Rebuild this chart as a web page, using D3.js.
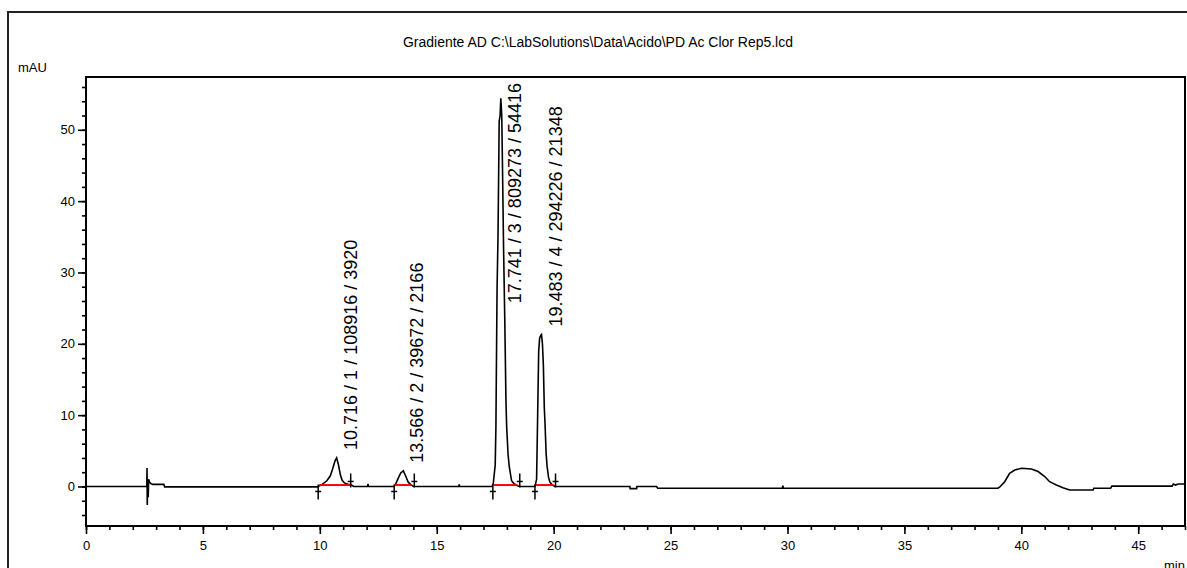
<!DOCTYPE html>
<html>
<head>
<meta charset="utf-8">
<script src="https://cdn.jsdelivr.net/npm/d3@7"></script>
<style>
  body { margin: 0; background: #fff; }
  #chart text { font-family: "Liberation Sans", Arial, sans-serif; fill: #000; }
</style>
</head>
<body>
<div id="chart"></div>
<script>
// chromatogram trace, [time (min), signal (mAU)]
var trace = [
  [0, 0], [2.55, 0], [2.60, 0], [2.61, 2.6], [2.62, -2.6], [2.64, 1.0], [2.66, -1.5], [2.68, 1.0],
  [2.72, 0.6], [2.78, 0.4], [2.85, 0.3], [3.33, 0.3], [3.36, -0.05], [9.90, -0.05], [9.93, 0],
  [10.10, 0.3], [10.30, 0.8], [10.45, 1.5], [10.55, 2.5], [10.65, 3.6], [10.72, 4.0], [10.80, 3.0],
  [10.88, 1.6], [10.95, 0.9], [11.05, 0.5], [11.20, 0.3], [11.35, 0.2], [11.45, 0], [12.04, 0],
  [12.06, 0.35], [12.08, 0], [13.18, 0],
  [13.25, 0.4], [13.36, 1.2], [13.46, 1.9], [13.57, 2.2], [13.68, 1.4], [13.78, 0.6], [13.88, 0.3],
  [14.00, 0], [15.94, 0], [15.96, 0.3], [15.98, 0], [17.37, 0],
  [17.42, 0.5], [17.50, 3.0], [17.53, 8.3], [17.56, 20], [17.58, 27.8], [17.62, 35], [17.67, 51.2],
  [17.71, 52], [17.74, 54.4], [17.78, 52], [17.81, 45.2], [17.86, 33], [17.91, 23.3], [17.96, 12],
  [17.99, 8.4], [18.05, 4.5], [18.10, 2.8], [18.20, 0.8], [18.30, 0.4], [18.45, 0.1], [18.55, 0],
  [19.20, 0],
  [19.27, 1.0], [19.31, 8.9], [19.36, 19], [19.40, 20.8], [19.45, 21.2], [19.48, 21.3], [19.52, 20.0],
  [19.56, 17], [19.60, 11], [19.63, 8.9], [19.68, 4.5], [19.72, 2.8], [19.78, 1.3], [19.84, 0.6],
  [19.95, 0.2], [20.05, 0],
  [23.26, 0], [23.27, -0.3], [23.55, -0.3], [23.56, 0], [24.40, 0], [24.45, -0.25], [29.78, -0.25],
  [29.80, 0.1], [29.83, -0.25], [39.00, -0.25],
  [39.07, -0.1], [39.29, 0.67], [39.50, 1.85], [39.72, 2.3], [40.00, 2.55], [40.43, 2.45], [40.72, 2.1],
  [41.00, 1.4], [41.21, 0.67], [41.50, 0.2], [41.78, -0.17], [42.07, -0.5], [43.07, -0.5], [43.10, -0.25],
  [43.82, -0.25], [43.87, 0.05], [46.45, 0.05], [46.50, 0.35], [46.60, 0.2], [46.70, 0.35], [47.00, 0.35]
];

// integrated peaks
var peakRT = [10.716, 13.566, 17.741, 19.483];
var peakHeight = [4.0, 2.2, 54.4, 21.3];
var peakLabels = [
  "10.716 / 1 / 108916 / 3920",
  "13.566 / 2 / 39672 / 2166",
  "17.741 / 3 / 809273 / 54416",
  "19.483 / 4 / 294226 / 21348"
];
var peakStart = [9.93, 13.18, 17.40, 19.20];
var peakEnd = [11.32, 14.04, 18.55, 20.08];
var baseFrom = [9.97, 13.21, 17.42, 19.23];
var baseTo = [11.30, 13.93, 18.45, 20.00];

var xTicks = [0, 5, 10, 15, 20, 25, 30, 35, 40, 45];
var yTicks = [0, 10, 20, 30, 40, 50];
var title = "Gradiente AD C:\\LabSolutions\\Data\\Acido\\PD Ac Clor Rep5.lcd";

var W = 1187, H = 568;
var pL = 86, pT = 77, pR = 1185, pB = 526;

var svg = d3.select("#chart").append("svg")
  .attr("width", W)
  .attr("height", H);

// outer frame
svg.append("rect")
  .attr("x", 8).attr("y", 12)
  .attr("width", 1300).attr("height", 700)
  .attr("fill", "none").attr("stroke", "#222").attr("stroke-width", 2);

svg.append("text")
  .attr("x", 598).attr("y", 47)
  .attr("text-anchor", "middle")
  .attr("textLength", 390).attr("lengthAdjust", "spacingAndGlyphs")
  .style("font-size", "14px")
  .text(title);

svg.append("text").attr("x", 18).attr("y", 72).style("font-size", "13px").text("mAU");
svg.append("text").attr("x", 1164).attr("y", 570).style("font-size", "13px").text("min");

var x = d3.scaleLinear().domain([0, 47]).range([pL, pR]);
var y = d3.scaleLinear().domain([-5.54, 57.4]).range([pB, pT]);

// plot box
svg.append("rect")
  .attr("x", pL).attr("y", pT)
  .attr("width", pR - pL).attr("height", pB - pT)
  .attr("fill", "none").attr("stroke", "#000").attr("stroke-width", 2);

// minor ticks
svg.append("g")
  .attr("transform", "translate(0," + pB + ")")
  .call(d3.axisBottom(x).tickValues(d3.range(0, 48, 1)).tickSize(4).tickSizeOuter(0).tickFormat(""))
  .call(g => g.select(".domain").remove())
  .selectAll("line").attr("stroke-width", 1.6);
svg.append("g")
  .attr("transform", "translate(" + pL + ",0)")
  .call(d3.axisLeft(y).tickValues(d3.range(-4, 57, 2)).tickSize(4).tickSizeOuter(0).tickFormat(""))
  .call(g => g.select(".domain").remove())
  .selectAll("line").attr("stroke-width", 1.6);

// major ticks + labels
var xAx = svg.append("g")
  .attr("transform", "translate(0," + pB + ")")
  .call(d3.axisBottom(x).tickValues(xTicks).tickSize(8).tickPadding(7).tickSizeOuter(0));
xAx.select(".domain").remove();
xAx.selectAll("line").attr("stroke-width", 1.6);
xAx.selectAll("text").style("font-size", "13px").attr("fill", "#000");

var yAx = svg.append("g")
  .attr("transform", "translate(" + pL + ",0)")
  .call(d3.axisLeft(y).tickValues(yTicks).tickSize(8).tickPadding(3).tickSizeOuter(0));
yAx.select(".domain").remove();
yAx.selectAll("line").attr("stroke-width", 1.6);
yAx.selectAll("text").style("font-size", "13px").attr("fill", "#000");

svg.append("defs").append("clipPath").attr("id", "plotclip")
  .append("rect").attr("x", pL).attr("y", pT).attr("width", pR - pL).attr("height", pB - pT);

var plot = svg.append("g").attr("clip-path", "url(#plotclip)");

var line = d3.line().x(d => x(d[0])).y(d => y(d[1]));

plot.append("path")
  .datum(trace)
  .attr("d", line)
  .attr("fill", "none")
  .attr("stroke", "#000")
  .attr("stroke-width", 1.6);

// integration baselines
plot.selectAll(".base")
  .data(baseFrom)
  .enter().append("line")
  .attr("x1", d => x(d))
  .attr("x2", (d, i) => x(baseTo[i]))
  .attr("y1", y(0.2)).attr("y2", y(0.2))
  .attr("stroke", "#ff0000").attr("stroke-width", 2);

// peak start / end marks
var y0 = y(0);
peakStart.forEach(function(t) {
  plot.append("line").attr("x1", x(t)).attr("x2", x(t)).attr("y1", y0 - 2).attr("y2", y0 + 13)
    .attr("stroke", "#000").attr("stroke-width", 1.5);
  plot.append("line").attr("x1", x(t) - 3).attr("x2", x(t) + 3).attr("y1", y0 + 5).attr("y2", y0 + 5)
    .attr("stroke", "#000").attr("stroke-width", 1.5);
});
peakEnd.forEach(function(t) {
  plot.append("line").attr("x1", x(t)).attr("x2", x(t)).attr("y1", y0 - 13).attr("y2", y0 + 1)
    .attr("stroke", "#000").attr("stroke-width", 1.5);
  plot.append("line").attr("x1", x(t) - 3).attr("x2", x(t) + 3).attr("y1", y0 - 5).attr("y2", y0 - 5)
    .attr("stroke", "#000").attr("stroke-width", 1.5);
});

// peak labels, vertical; pushed down when they would run past the plot top
peakLabels.forEach(function(lbl, i) {
  var t = svg.append("text")
    .style("font-size", "18px")
    .text(lbl);
  var len = t.node().getComputedTextLength();
  var ly = Math.max(y(peakHeight[i]) - 8, pT + 6 + len);
  var lx = x(peakRT[i]) + 20;
  t.attr("transform", "translate(" + lx + "," + ly + ") rotate(-90)");
});
</script>
</body>
</html>
